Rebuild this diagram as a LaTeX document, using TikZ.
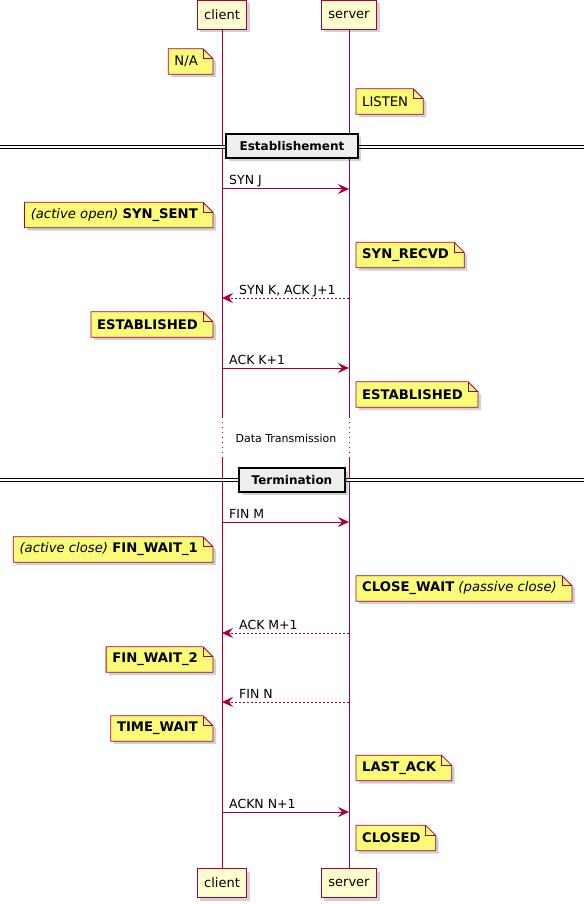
\documentclass[tikz,border=0pt]{standalone}
\usepackage{fontspec}
\setmainfont{DejaVu Sans}
\usepackage{xcolor}
\usepackage{tikz}
\usetikzlibrary{positioning,arrows.meta,shadows,backgrounds,calc}
\definecolor{umlred}{HTML}{A80036}
\definecolor{partfill}{HTML}{FEFECE}
\definecolor{notefill}{HTML}{FBFB77}
\definecolor{divfill}{HTML}{EEEEEE}
\tikzset{
  umlshadow/.style={drop shadow={shadow xshift=3pt,shadow yshift=-3pt,fill=black,opacity=0.18}},
  party/.style={draw=umlred,line width=1.2pt,fill=partfill,umlshadow,minimum height=29pt,inner xsep=7pt,inner ysep=0pt,font=\fontsize{13}{15}\selectfont},
  lifeline/.style={umlred,line width=1pt},
  delayline/.style={umlred,line width=1pt,dash pattern=on 1pt off 4pt},
  msg/.style={umlred,line width=1pt,-{Stealth[length=11pt,width=10pt,inset=4pt]}},
  reply/.style={msg,dash pattern=on 2pt off 2pt},
  msglabel/.style={inner sep=0pt,font=\fontsize{12.5}{15}\selectfont},
  notetext/.style={inner sep=0pt,minimum height=25pt,font=\fontsize{13.2}{15}\selectfont},
  noteshape/.style={draw=umlred,line width=0.8pt,fill=notefill,umlshadow},
  divbox/.style={draw=black,line width=1.6pt,fill=divfill,umlshadow,minimum height=24pt,inner xsep=3pt,font=\fontsize{12}{14}\selectfont\bfseries},
  divline/.style={black,line width=0.9pt,double=white,double distance=1.8pt},
}
% note with folded corner: name, placement, text
\newcommand{\statenote}[3]{%
  \node[notetext,#2] (#1) {#3};
  \begin{scope}[on background layer]
    \path[noteshape] ([xshift=-6pt]#1.south west) -- ([xshift=-6pt]#1.north west) -- ([xshift=5pt]#1.north east) -- ([xshift=15pt,yshift=-10pt]#1.north east) -- ([xshift=15pt]#1.south east) -- cycle;
    \draw[umlred,line width=0.8pt] ([xshift=5pt]#1.north east) |- ([xshift=15pt,yshift=-10pt]#1.north east);
  \end{scope}}

\begin{document}
\begin{tikzpicture}[x=1pt,y=-1pt]
\useasboundingbox (0,0) rectangle (584,904);
\begin{scope}[on background layer]\fill[white] (0,0) rectangle (584,904);\end{scope}
% participants
\node[party] (cltop) at (222,15) {client};
\node[party] (svtop) at (349,15) {server};
\node[party] (clbot) at (222,883) {client};
\node[party] (svbot) at (349,883) {server};
% lifelines, dotted over the delay
\foreach \who in {cl,sv}{
  \coordinate (\who gapA) at (\who top.south |- 0,417);
  \coordinate (\who gapB) at (\who top.south |- 0,457);
  \draw[lifeline] (\who top.south) -- (\who gapA);
  \draw[delayline] (\who gapA) -- (\who gapB);
  \draw[lifeline] (\who gapB) -- (\who bot.north);}
\node[inner sep=0pt,font=\fontsize{11}{13}\selectfont] (delay) at (286,438) {Data Transmission};
% dividers
\draw[divline] (0,147) -- (584,147);
\node[divbox,minimum width=132pt] (estab) at (292,146) {Establishement};
\draw[divline] (0,480) -- (584,480);
\node[divbox,minimum width=106pt] (term) at (292,480) {Termination};
% client -> server
\foreach \yv/\lab [count=\i] in {189/SYN J,368/ACK K+1,522/FIN M,812/ACKN N+1}{
  \draw[msg] (cltop.south |- 0,\yv) -- (svtop.south |- 0,\yv);
  \node[msglabel,anchor=base west] (req\i) at ($(cltop.south |- 0,\yv)+(7,-4)$) {\lab};}
% server -> client (dashed)
\foreach \yv/\lab [count=\i] in {298/{SYN K, ACK J+1},633/ACK M+1,702/FIN N}{
  \draw[reply] (svtop.south |- 0,\yv) -- (cltop.south |- 0,\yv);
  \node[msglabel,anchor=base west] (rep\i) at ($(cltop.south |- 0,\yv)+(17,-4)$) {\lab};}
% states of the client
\statenote{na}{anchor=east,at={(198,61.5)}}{N/A}
\statenote{synsent}{anchor=east,at={(198,215)}}{\textit{(active open)} \textbf{SYN\_SENT}}
\statenote{clest}{anchor=east,at={(198,324.5)}}{\textbf{ESTABLISHED}}
\statenote{finwa}{anchor=east,at={(198,549.5)}}{\textit{(active close)} \textbf{FIN\_WAIT\_1}}
\statenote{finwb}{anchor=east,at={(198,659.5)}}{\textbf{FIN\_WAIT\_2}}
\statenote{timew}{anchor=east,at={(198,728.5)}}{\textbf{TIME\_WAIT}}
% states of the server
\statenote{listen}{anchor=west,at={(362,101.5)}}{LISTEN}
\statenote{synrecvd}{anchor=west,at={(362,255)}}{\textbf{SYN\_RECVD}}
\statenote{svest}{anchor=west,at={(362,394.5)}}{\textbf{ESTABLISHED}}
\statenote{closew}{anchor=west,at={(362,588.5)}}{\textbf{CLOSE\_WAIT} \textit{(passive close)}}
\statenote{lastack}{anchor=west,at={(362,768)}}{\textbf{LAST\_ACK}}
\statenote{closed}{anchor=west,at={(362,838)}}{\textbf{CLOSED}}
\end{tikzpicture}
\end{document}
